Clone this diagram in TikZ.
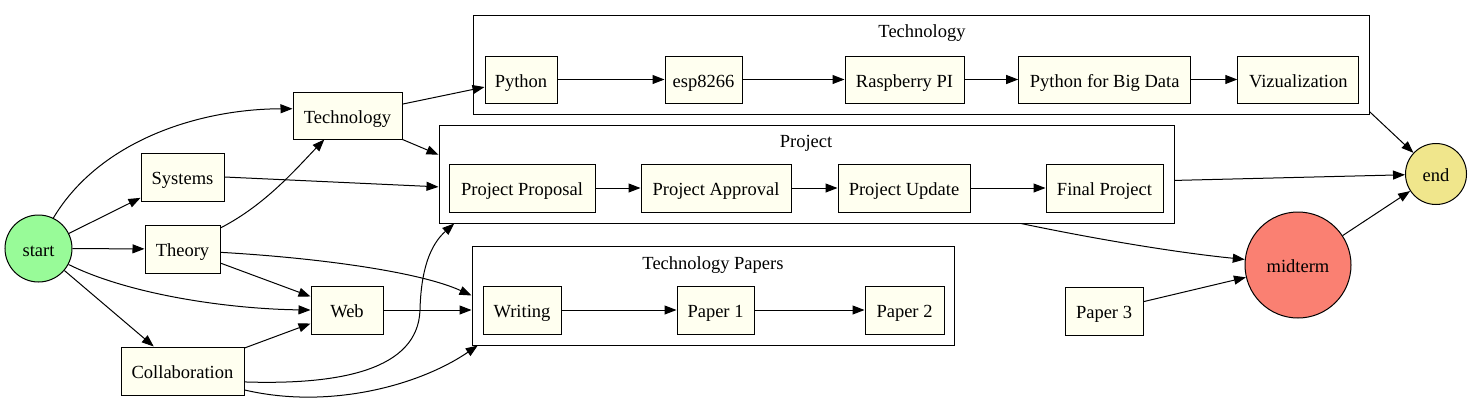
\documentclass[tikz,border=0pt]{standalone}
\usepackage{fontspec}
\setmainfont{Liberation Serif}
\usetikzlibrary{arrows.meta}
\definecolor{ivory}{RGB}{255,255,240}
\definecolor{palegreen}{RGB}{152,251,152}
\definecolor{salmon}{RGB}{250,128,114}
\definecolor{khaki}{RGB}{240,230,140}
\begin{document}
\begin{tikzpicture}[x=1pt,y=-1pt,line width=1pt,
  txt/.style={font=\fontsize{18.5}{20}\selectfont,text height=17pt,text depth=2pt},
  box/.style={txt,draw,fill=ivory,minimum height=47pt,inner sep=0pt},
  clbox/.style={draw,inner sep=0pt},
  cltitle/.style={txt},
  circ/.style={txt,draw,circle,inner sep=0pt},
  edge/.style={-{Triangle[length=12pt,width=9pt]}}
]
\useasboundingbox (0,0) rectangle (1475,405);
% clusters
\node[clbox,minimum width=896pt,minimum height=99pt] (techC) at (921,64.5) {};
\node[clbox,minimum width=735pt,minimum height=98pt] (projC) at (806.5,174) {};
\node[clbox,minimum width=482pt,minimum height=99pt] (papC) at (713,295.5) {};
\node[cltitle] (techT) at (922,30) {Technology};
\node[cltitle] (projT) at (806,140) {Project};
\node[cltitle] (papT) at (713,262) {Technology Papers};
% left nodes
\node[circ,fill=palegreen,minimum size=67pt] (start) at (38.5,248.5) {start};
\node[box,minimum width=109pt] (tech) at (347.5,115.5) {Technology};
\node[box,minimum width=83pt,minimum height=48pt] (sys) at (182.5,177) {Systems};
\node[box,minimum width=75pt,minimum height=48pt] (theory) at (182.5,249) {Theory};
\node[box,minimum width=72pt,minimum height=48pt] (web) at (347,310) {Web};
\node[box,minimum width=123pt,minimum height=48pt] (collab) at (182.5,371) {Collaboration};
% technology cluster
\node[box,minimum width=72pt] (python) at (521,79.5) {Python};
\node[box,minimum width=77pt] (esp) at (703.5,79.5) {esp8266};
\node[box,minimum width=119pt] (rpi) at (904.5,79.5) {Raspberry PI};
\node[box,minimum width=172pt] (pbd) at (1104.7,79.5) {Python for Big Data};
\node[box,minimum width=121pt] (viz) at (1298.3,79.5) {Vizualization};
% project cluster
\node[box,minimum width=146pt,minimum height=48pt] (pp) at (522,188) {Project Proposal};
\node[box,minimum width=150pt,minimum height=48pt] (pa) at (716,188) {Project Approval};
\node[box,minimum width=132pt,minimum height=48pt] (pu) at (904,188) {Project Update};
\node[box,minimum width=117pt,minimum height=48pt] (fp) at (1104.5,188) {Final Project};
% papers cluster
\node[box,minimum width=78pt,minimum height=48pt] (writing) at (522,310) {Writing};
\node[box,minimum width=77pt,minimum height=48pt] (p1) at (715.5,310) {Paper 1};
\node[box,minimum width=79pt,minimum height=48pt] (p2) at (904.5,310) {Paper 2};
% right
\node[box,minimum width=78pt,minimum height=48pt] (p3) at (1104,311) {Paper 3};
\node[circ,fill=salmon,minimum size=106pt] (midterm) at (1298,265) {midterm};
\node[circ,fill=khaki,minimum size=61pt] (end) at (1436,174) {end};
% edges from start
\draw[edge] (start.64) .. controls (100,140) and (200,109) .. (tech.173);
\draw[edge] (start) -- (sys);
\draw[edge] (start) -- (theory);
\draw[edge] (start.-28) .. controls (130,295) and (230,309) .. (web.west);
\draw[edge] (start) -- (collab);
% theory
\draw[edge] (theory.29) .. controls (265,205) and (295,170) .. (tech.-134);
\draw[edge] (theory) -- (web);
\draw[edge] (theory.-5) .. controls (320,258) and (420,272) .. (papC.west);
% web
\draw[edge] (web) -- (web -| papC.west);
% collaboration
\draw[edge] (collab) -- (web);
\draw[edge] (collab.-10) .. controls (340,385) and (418,370) .. (420,310) .. controls (421,270) and (430,245) .. (projC.-172);
\draw[edge] (collab.-17) .. controls (330,410) and (420,385) .. (papC.-168);
% technology
\draw[edge] (tech) -- (python);
\draw[edge] (tech.south east) -- (projC.177);
\draw[edge] (sys.east) -- (projC.182);
% chains
\draw[edge] (python) -- (esp);
\draw[edge] (esp) -- (rpi);
\draw[edge] (rpi) -- (pbd);
\draw[edge] (pbd) -- (viz);
\draw[edge] (pp) -- (pa);
\draw[edge] (pa) -- (pu);
\draw[edge] (pu) -- (fp);
\draw[edge] (writing) -- (p1);
\draw[edge] (p1) -- (p2);
% right side
\draw[edge] (techC.-6.6) -- (end);
\draw[edge] (projC.-1.9) -- (end);
\draw[edge] (projC.-13.3) .. controls (1100,240) and (1180,253) .. (midterm.174.6);
\draw[edge] (p3) -- (midterm);
\draw[edge] (midterm) -- (end);
\end{tikzpicture}
\end{document}
